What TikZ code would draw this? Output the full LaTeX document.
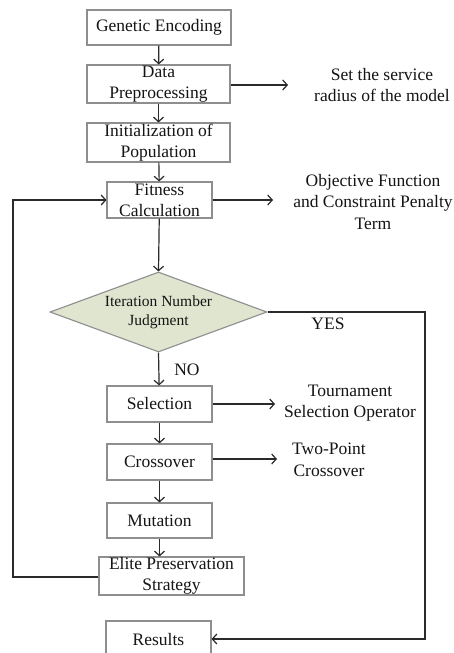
\documentclass[tikz,border=0pt]{standalone}
\usepackage{fontspec}
\setmainfont{Liberation Serif}
\usetikzlibrary{arrows.meta,shapes.geometric}
\definecolor{boxgray}{HTML}{8E8E8E}
\definecolor{linegray}{HTML}{2A2A2A}
\definecolor{txt}{HTML}{151515}
\definecolor{sage}{HTML}{DFE5CF}
\begin{document}
\begin{tikzpicture}[x=1pt,y=-1pt,
  box/.style={draw=boxgray, line width=1.1pt, fill=white, inner sep=0pt, align=center,
    text=txt, font=\fontsize{17.5}{21}\selectfont},
  decision/.style={diamond, draw=boxgray, line width=1.1pt, fill=sage, inner sep=0pt,
    align=center, text=txt, font=\fontsize{15.5}{19}\selectfont},
  note/.style={align=center, text=txt, inner sep=0pt, font=\fontsize{17.5}{21.5}\selectfont},
  lbl/.style={text=txt, inner sep=0pt, font=\fontsize{17.5}{21}\selectfont},
  flow/.style={draw=linegray, line width=1.2pt, -{Straight Barb[length=4.5pt,width=10pt,line width=1.2pt]}},
  plain/.style={draw=linegray, line width=1.2pt}
]
\clip (0,0) rectangle (454,653);
\fill[white] (0,0) rectangle (454,653);

\node[box, minimum width=144pt, minimum height=35pt] (enc) at (159,27.5) {Genetic Encoding};
\node[box, minimum width=143pt, minimum height=38pt] (data) at (158.5,84) {Data\\Preprocessing};
\node[box, minimum width=143pt, minimum height=39pt] (init) at (158.5,142.5) {Initialization of\\Population};
\node[box, minimum width=105pt, minimum height=36pt] (fit) at (159.5,200) {Fitness\\Calculation};
\node[decision, minimum width=217pt, minimum height=80pt, aspect=2.7] (judge) at (158.5,312) {Iteration Number\\Judgment};
\node[box, minimum width=105pt, minimum height=36pt] (sel) at (159.5,404) {Selection};
\node[box, minimum width=105pt, minimum height=36pt] (cross) at (159.5,462) {Crossover};
\node[box, minimum width=105pt, minimum height=35pt] (mut) at (159.5,520.5) {Mutation};
\node[box, minimum width=145pt, minimum height=38pt] (elite) at (171.5,576) {Elite Preservation\\Strategy};
\node[box, minimum width=105pt, minimum height=38pt] (res) at (158.5,640) {Results};

\node[note] (n1) at (382,85) {Set the service\\radius of the model};
\node[note] (n2) at (373,202) {Objective Function\\and Constraint Penalty\\Term};
\node[note] (n3) at (350,403) {Tournament\\Selection Operator};
\node[note] (n4) at (329,460) {Two-Point\\Crossover};

\node[lbl] (yes) at (328,324) {YES};
\node[lbl] (no) at (187,370) {NO};

\coordinate (e1) at (288,85);
\coordinate (e2) at (273,200);
\coordinate (e3) at (275,404);
\coordinate (e4) at (277,459);
\coordinate (lb) at (13,577);
\coordinate (lt) at (13,200);
\coordinate (rt) at (425,312);
\coordinate (rb) at (425,639);

\draw[flow] (enc) -- (data);
\draw[flow] (data) -- (init);
\draw[flow] (init) -- (fit);
\draw[flow] (fit) -- (judge.north);
\draw[flow] (judge.south) -- (sel);
\draw[flow] (sel) -- (cross);
\draw[flow] (cross) -- (mut);
\draw[flow] (mut) -- (mut.south |- elite.north);

\draw[flow] (data.east |- e1) -- (e1);
\draw[flow] (fit.east) -- (e2);
\draw[flow] (sel.east) -- (e3);
\draw[flow] (cross.east |- e4) -- (e4);

\draw[flow] (elite.west |- lb) -- (lb) -- (lt) -- (fit.west);
\draw[flow] (judge.east) -- (rt) -- (rb) -- (res.east |- rb);
\end{tikzpicture}
\end{document}
